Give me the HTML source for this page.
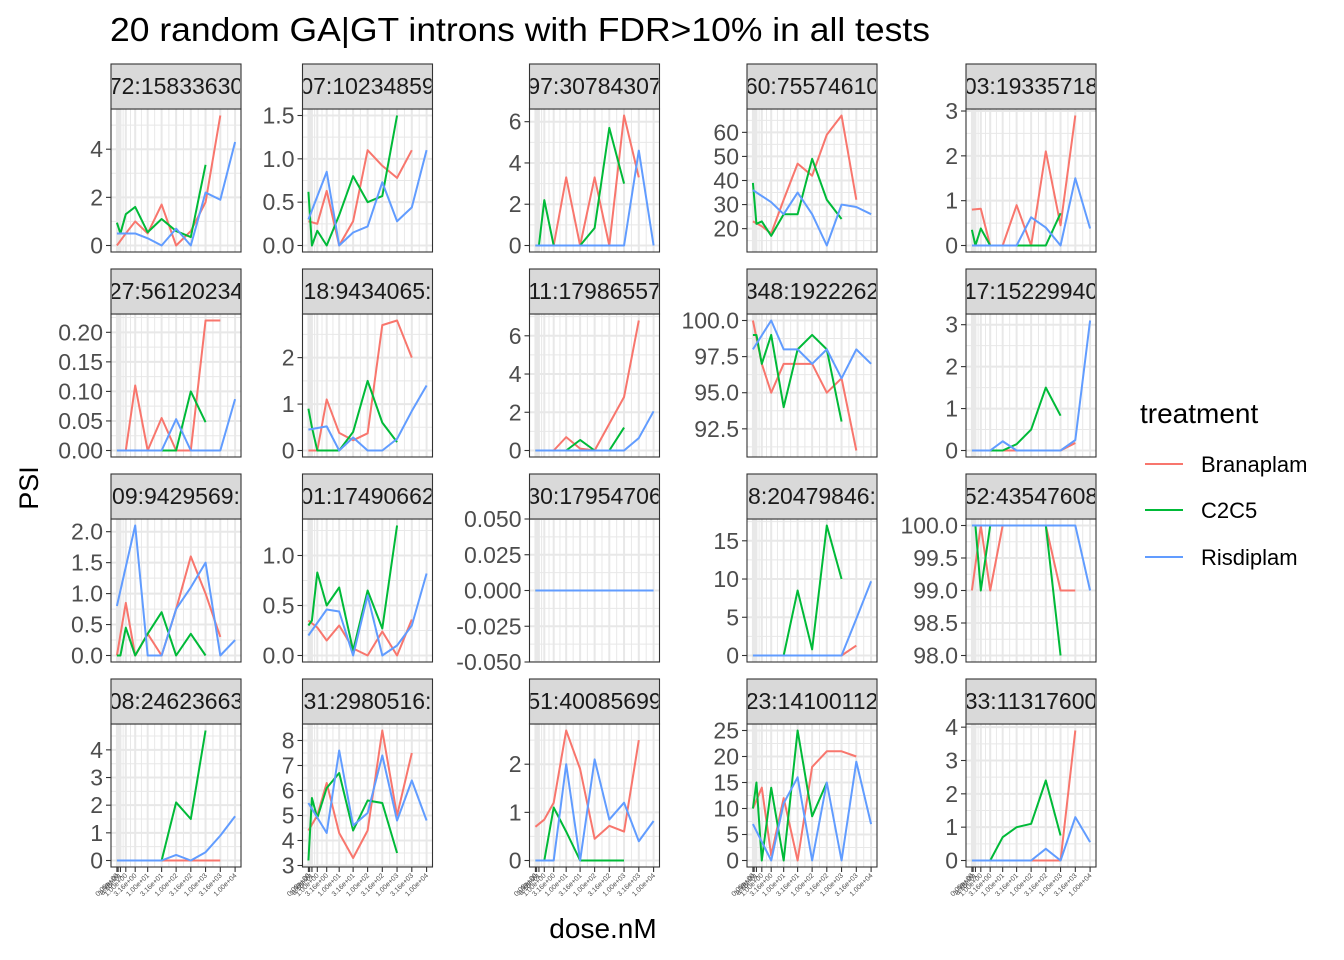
<!DOCTYPE html>
<html>
<head>
<meta charset="utf-8">
<style>
html,body{margin:0;padding:0;background:#fff;}
svg{display:block;font-family:"Liberation Sans",Arial,sans-serif;}
</style>
</head>
<body>
<svg id="chart" width="1344" height="960" viewBox="0 0 1344 960" xmlns="http://www.w3.org/2000/svg">
  <rect x="0" y="0" width="1344" height="960" fill="#ffffff"/>
  <text x="110" y="41" font-size="33" fill="#000" textLength="820" lengthAdjust="spacingAndGlyphs">20 random GA|GT introns with FDR&gt;10% in all tests</text>
  <text transform="translate(38,488) rotate(-90)" text-anchor="middle" font-size="27" fill="#000">PSI</text>
  <text x="603" y="938" text-anchor="middle" font-size="28" fill="#000">dose.nM</text>
  <g id="panels"></g>
  <g>
    <text x="1140" y="423" font-size="28" fill="#000">treatment</text>
    <g>
      <line x1="1145" y1="464" x2="1183" y2="464" stroke="#F8766D" stroke-width="2"/>
      <text x="1201" y="472" font-size="22" fill="#000">Branaplam</text>
    </g>
    <g>
      <line x1="1145" y1="510" x2="1183" y2="510" stroke="#00BA38" stroke-width="2"/>
      <text x="1201" y="518" font-size="22" fill="#000">C2C5</text>
    </g>
    <g>
      <line x1="1145" y1="557" x2="1183" y2="557" stroke="#619CFF" stroke-width="2"/>
      <text x="1201" y="565" font-size="22" fill="#000">Risdiplam</text>
    </g>
  </g>
</svg>
<script>
// ---- data ----
const stripLabels = ["72:15833630","07:10234859","97:30784307","60:75574610","03:19335718",
  "27:56120234","18:9434065:","11:17986557","348:1922262","17:15229940",
  "09:9429569:","01:17490662","30:17954706","8:20479846:","52:43547608",
  "08:24623663","31:2980516:","51:40085699","23:14100112","33:11317600"];
const doseBreaks = [0,0.1,0.316,1,3.16,10,31.6,100,316,1000,3160,10000];
const doseTickLabels = ["0.00e+00","1.00e-01","3.16e-01","1.00e+00","3.16e+00","1.00e+01","3.16e+01","1.00e+02","3.16e+02","1.00e+03","3.16e+03","1.00e+04"];
const doseBranaplam = [0,1,3.16,10,31.6,100,316,1000,3160];
const doseC2C5 = [0,0.316,1,3.16,10,31.6,100,316,1000];
const doseRisdiplam = [0,3.16,10,31.6,100,316,1000,3160,10000];
const psiBranaplam = [
  [0,0.5,1.0,0.5,1.7,0,0.6,1.8,5.4],
  [0.28,0.25,0.63,0,0.28,1.1,0.92,0.78,1.1],
  [0,0,0,3.3,0,3.3,0,6.3,3.3],
  [23,21,18,32,47,42,59,67,32],
  [0.8,0.82,0,0,0.9,0,2.1,0.45,2.9],
  [0,0,0.11,0,0.055,0,0,0.22,0.22],
  [0,0,1.1,0.38,0.22,0.37,2.7,2.8,2.0],
  [0,0,0,0.7,0.1,0,1.4,2.8,6.8],
  [100,97,95,97,97,97,95,96,91],
  [0,0,0,0,0,0,0,0,0.18],
  [0,0.85,0,0.35,0,0.75,1.6,1.0,0.3],
  [0.35,0.28,0.15,0.3,0.07,0,0.24,0,0.36],
  [0,0,0,0,0,0,0,0,0],
  [0,0,0,0,0,0,0,0,1.3],
  [99,100,99,100,100,100,100,99,99],
  [0,0,0,0,0,0,0,0,0],
  [4.4,5.0,6.3,4.3,3.3,4.4,8.4,5.0,7.5],
  [0.7,0.85,1.2,2.7,1.9,0.45,0.72,0.6,2.5],
  [10,14,1,12,0,18,21,21,20],
  [0,0,0,0,0,0,0,0,3.9]
];
const psiC2C5 = [
  [0.95,0.5,1.3,1.6,0.55,1.1,0.6,0.35,3.35],
  [0.62,0,0.17,0,0.35,0.8,0.5,0.57,1.5],
  [0,0,2.2,0,0,0,0.85,5.7,3.0],
  [39,22,23,17,26,26,49,32,24],
  [0.35,0,0.38,0,0,0,0,0,0.72],
  [0,0,0,0,0,0,0,0.1,0.048],
  [0.9,0.5,0,0,0,0.4,1.5,0.6,0.18],
  [0,0,0,0,0,0.55,0,0,1.2],
  [99,99,97,99,94,98,99,98,93],
  [0,0,0,0,0,0.15,0.5,1.5,0.83],
  [0,0,0.45,0,0.35,0.7,0,0.35,0],
  [0.3,0.35,0.83,0.5,0.68,0.05,0.65,0.27,1.3],
  [0,0,0,0,0,0,0,0,0],
  [0,0,0,0,0,8.5,0.8,17,10],
  [100,100,99,100,100,100,100,100,98],
  [0,0,0,0,0,0,2.1,1.5,4.7],
  [3.2,5.7,4.9,6.1,6.7,4.4,5.6,5.5,3.5],
  [0,0,0,1.1,0.6,0,0,0,0],
  [10,15,0,14,0,25,8.5,15,null],
  [0,0,0,0,0.7,1.0,1.1,2.4,0.75]
];
const psiRisdiplam = [
  [0.5,0.5,0.3,0,0.7,0,2.2,1.9,4.3],
  [0.3,0.85,0,0.15,0.22,0.73,0.28,0.44,1.1],
  [0,0,0,0,0,0,0,4.6,0],
  [36,31,26,35,26,13,30,29,26],
  [0,0,0,0,0.63,0.4,0,1.5,0.38],
  [0,0,0,0,0.053,0,0,0,0.087],
  [0.45,0.52,0,0.28,0,0,0.25,0.85,1.4],
  [0,0,0,0,0,0,0,0.65,2.05],
  [98,100,98,98,97,98,96,98,97],
  [0,0,0.22,0,0,0,0,0.25,3.1],
  [0.8,2.1,0,0,0.75,1.1,1.5,0,0.25],
  [0.2,0.46,0.44,0,0.6,0,0.1,0.3,0.82],
  [0,0,0,0,0,0,0,0,0],
  [0,0,0,0,0,0,0,4.8,9.7],
  [100,100,100,100,100,100,100,100,99],
  [0,0,0,0,0.2,0,0.3,0.9,1.6],
  [5.5,4.3,7.6,4.6,5.1,7.4,4.8,6.4,4.8],
  [0,0,2.0,0,2.1,0.85,1.2,0.4,0.82],
  [7,0,11,16,0,15,0,19,7],
  [0,0,0,0,0,0.35,0,1.3,0.55]
];
const yTickLabels = [
  ["0","2","4"],["0.0","0.5","1.0","1.5"],["0","2","4","6"],["20","30","40","50","60"],["0","1","2","3"],
  ["0.00","0.05","0.10","0.15","0.20"],["0","1","2"],["0","2","4","6"],["92.5","95.0","97.5","100.0"],["0","1","2","3"],
  ["0.0","0.5","1.0","1.5","2.0"],["0.0","0.5","1.0"],["-0.050","-0.025","0.000","0.025","0.050"],["0","5","10","15"],["98.0","98.5","99.0","99.5","100.0"],
  ["0","1","2","3","4"],["3","4","5","6","7","8"],["0","1","2"],["0","5","10","15","20","25"],["0","1","2","3","4"]
];

// ---- layout ----
const NS = "http://www.w3.org/2000/svg";
const colLeft = [111, 302.5, 529.5, 747, 966];
const rowTop = [64, 269, 474, 679];
const PW = 130, PH = 143, SH = 45;
const colors = ["#F8766D", "#00BA38", "#619CFF"];
const seriesNames = ["branaplam", "c2c5", "risdiplam"];
const root = document.getElementById("panels");

function mk(tag, attrs, parent) {
  const e = document.createElementNS(NS, tag);
  for (const k in attrs) e.setAttribute(k, attrs[k]);
  parent.appendChild(e);
  return e;
}
function tx(d) { return (Math.log10(d + 1) + 0.2) / 4.4; }
function xScale(left, d) { return left + tx(d) * PW; }

for (let p = 0; p < 20; p++) {
  const col = p % 5, row = Math.floor(p / 5);
  const left = colLeft[col], top = rowTop[row] + SH, bottom = top + PH;
  const g = mk("g", {}, root);
  
  

  const all = [].concat(psiBranaplam[p], psiC2C5[p], psiRisdiplam[p]).filter(v => v !== null);
  let mn = Math.min.apply(null, all), mx = Math.max.apply(null, all);
  let lo, hi;
  if (mx - mn < 1e-9) { lo = mn - 0.05; hi = mx + 0.05; }
  else { const r = mx - mn; lo = mn - 0.05 * r; hi = mx + 0.05 * r; }
  const yScale = v => bottom - (v - lo) / (hi - lo) * PH;

  const bg = mk("rect", {x: left, y: top, width: PW, height: PH, fill: "#fff"}, g);
  
  

  const clipId = "clip" + p;
  const cp = mk("clipPath", {id: clipId}, g);
  mk("rect", {x: left, y: top, width: PW, height: PH}, cp);
  const grid = mk("g", {"clip-path": "url(#" + clipId + ")"}, g);
  
  

  const tb = doseBreaks.map(tx);
  const xMinor = [];
  for (let i = 0; i < tb.length - 1; i++) xMinor.push((tb[i] + tb[i + 1]) / 2);
  xMinor.forEach(t => mk("line", {x1: left + t * PW, x2: left + t * PW, y1: top, y2: bottom, stroke: "#e8e8e8", "stroke-width": 1}, grid));
  const yt = yTickLabels[p].map(Number);
  const step = yt.length > 1 ? yt[1] - yt[0] : 1;
  for (let v = yt[0] - step / 2; v <= hi + step; v += step) {
    if (v >= lo && v <= hi) mk("line", {x1: left, x2: left + PW, y1: yScale(v), y2: yScale(v), stroke: "#e8e8e8", "stroke-width": 1}, grid);
  }
  tb.forEach(t => mk("line", {x1: left + t * PW, x2: left + t * PW, y1: top, y2: bottom, stroke: "#e8e8e8", "stroke-width": 2}, grid));
  yt.forEach(v => mk("line", {x1: left, x2: left + PW, y1: yScale(v), y2: yScale(v), stroke: "#e8e8e8", "stroke-width": 2}, grid));

  const doseSets = [doseBranaplam, doseC2C5, doseRisdiplam];
  const valSets = [psiBranaplam[p], psiC2C5[p], psiRisdiplam[p]];
  const lines = mk("g", {"clip-path": "url(#" + clipId + ")"}, g);
  
  
  for (let s = 0; s < 3; s++) {
    const pts = [];
    valSets[s].forEach((v, i) => { if (v !== null) pts.push(xScale(left, doseSets[s][i]).toFixed(2) + "," + yScale(v).toFixed(2)); });
    const pl = mk("polyline", {points: pts.join(" "), fill: "none", stroke: colors[s], "stroke-width": 2, "stroke-linejoin": "round"}, lines);
    
    
  }

  const br = mk("rect", {x: left, y: top, width: PW, height: PH, fill: "none", stroke: "#333333", "stroke-width": 1.1}, g);
  
  

  const st = mk("g", {}, g);
  
  
  mk("rect", {x: left, y: rowTop[row], width: PW, height: SH, fill: "#d9d9d9", stroke: "#333333", "stroke-width": 1.1}, st);
  const scId = "sclip" + p;
  const scp = mk("clipPath", {id: scId}, st);
  mk("rect", {x: left + 1, y: rowTop[row], width: PW - 2, height: SH}, scp);
  const stt = mk("text", {x: left + PW / 2, y: rowTop[row] + 30, "text-anchor": "middle", "font-size": 23, fill: "#1a1a1a", "clip-path": "url(#" + scId + ")"}, st);
  
  
  stt.textContent = stripLabels[p];

  const ya = mk("g", {}, g);
  
  
  yTickLabels[p].forEach((lab, i) => {
    const y = yScale(yt[i]);
    mk("line", {x1: left - 5, x2: left, y1: y, y2: y, stroke: "#333333", "stroke-width": 1.1}, ya);
    const t = mk("text", {x: left - 8, y: y + 8, "text-anchor": "end", "font-size": 23, fill: "#4d4d4d"}, ya);
    
    
    t.textContent = lab;
  });

  if (row === 3) {
    const xa = mk("g", {}, g);
    
    
    doseBreaks.forEach((d, i) => {
      const x = xScale(left, d);
      mk("line", {x1: x, x2: x, y1: bottom, y2: bottom + 5, stroke: "#333333", "stroke-width": 1.1}, xa);
      const t = mk("text", {transform: "translate(" + (x + 2) + "," + (bottom + 9) + ") rotate(-45)", "text-anchor": "end", "font-size": 7, fill: "#4d4d4d"}, xa);
      
      
      t.textContent = doseTickLabels[i];
    });
  }
}
</script>
</body>
</html>
